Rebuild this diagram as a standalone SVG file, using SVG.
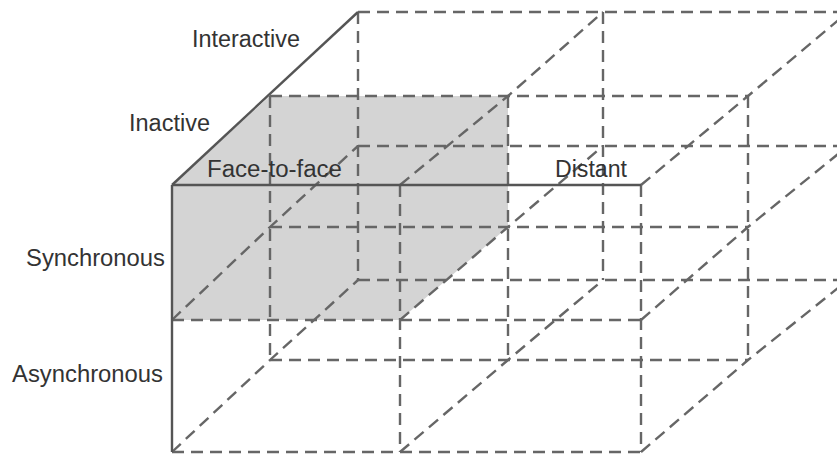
<svg xmlns="http://www.w3.org/2000/svg" width="837" height="454" viewBox="0 0 837 454">
  <style>
    .dash { fill: none; stroke: #666666; stroke-width: 2.4; stroke-dasharray: 12 7; }
    .solid { fill: none; stroke: #555555; stroke-width: 2.4; }
    .shade { fill: #d4d4d4; stroke: none; }
    .lbl { font-family: "Liberation Sans", Arial, sans-serif; font-size: 23px; fill: #333333; }
  </style>
  <rect width="837" height="454" fill="#ffffff"/>
  <g id="shaded-cell">
    <polygon class="shade" points="172,185 270,96 508,96 508,227 400,320 172,320"/>
  </g>
  <g id="grid">
    <!-- front layer -->
    <line class="dash" x1="172" y1="320" x2="641" y2="320"/>
    <line class="dash" x1="172" y1="452" x2="641" y2="452"/>
    <line class="dash" x1="400" y1="185" x2="400" y2="452"/>
    <line class="dash" x1="641" y1="185" x2="641" y2="452"/>
    <!-- middle layer -->
    <line class="dash" x1="270" y1="96" x2="748" y2="96"/>
    <line class="dash" x1="270" y1="227" x2="748" y2="227"/>
    <line class="dash" x1="270" y1="360" x2="748" y2="360"/>
    <line class="dash" x1="270" y1="96" x2="270" y2="360"/>
    <line class="dash" x1="508" y1="96" x2="508" y2="360"/>
    <line class="dash" x1="748" y1="96" x2="748" y2="360"/>
    <!-- back layer -->
    <line class="dash" x1="358" y1="12" x2="848" y2="12"/>
    <line class="dash" x1="358" y1="146" x2="848" y2="146"/>
    <line class="dash" x1="358" y1="280" x2="848" y2="280"/>
    <line class="dash" x1="358" y1="12" x2="358" y2="280"/>
    <line class="dash" x1="603" y1="12" x2="603" y2="280"/>
    <!-- depth lines -->
    <polyline class="dash" points="400,185 508,96 603,12"/>
    <polyline class="dash" points="641,185 748,96 848,12"/>
    <polyline class="dash" points="172,320 270,227 358,146"/>
    <polyline class="dash" points="400,320 508,227 603,146"/>
    <polyline class="dash" points="641,320 748,227 848,146"/>
    <polyline class="dash" points="172,452 270,360 358,280"/>
    <polyline class="dash" points="400,452 508,360 603,280"/>
    <polyline class="dash" points="641,452 748,360 848,280"/>
    <!-- solid edges -->
    <line class="solid" x1="172" y1="185" x2="641" y2="185"/>
    <line class="solid" x1="172" y1="185" x2="172" y2="452"/>
    <line class="solid" x1="172" y1="185" x2="358" y2="12"/>
  </g>
  <g id="labels">
    <text class="lbl" x="192" y="47" textLength="108" lengthAdjust="spacingAndGlyphs">Interactive</text>
    <text class="lbl" x="129" y="131" textLength="81" lengthAdjust="spacingAndGlyphs">Inactive</text>
    <text class="lbl" x="207" y="177" textLength="135" lengthAdjust="spacingAndGlyphs">Face-to-face</text>
    <text class="lbl" x="555" y="177" textLength="72" lengthAdjust="spacingAndGlyphs">Distant</text>
    <text class="lbl" x="26" y="266" textLength="139" lengthAdjust="spacingAndGlyphs">Synchronous</text>
    <text class="lbl" x="12" y="382" textLength="151" lengthAdjust="spacingAndGlyphs">Asynchronous</text>
  </g>
</svg>
